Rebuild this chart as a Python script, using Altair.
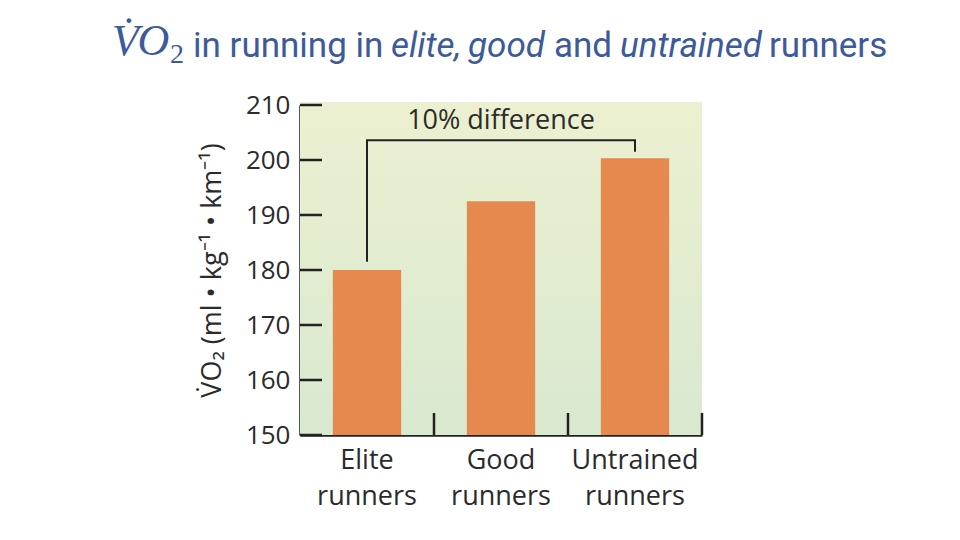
import altair as alt
import pandas as pd

# ---- data ----
categories = ["Elite runners", "Good runners", "Untrained runners"]
vo2_values = [180.0, 192.5, 200.3]
y_tick_values = [150, 160, 170, 180, 190, 200, 210]
bracket_cats = ["Elite runners", "Elite runners", "Untrained runners", "Untrained runners"]
bracket_vals = [181.5, 203.6, 203.6, 201.5]
note_text = "10% difference"
note_cat = "Good runners"
note_val = 205.7
y_title = "V\u0307O\u2082 (ml \u2022 kg\u207b\u00b9 \u2022 km\u207b\u00b9)"

TITLE_COLOR = "#3d5a9a"
INK = "#2b2b2b"
LABEL_FONT = "Open Sans"

bars_df = pd.DataFrame({"cat": categories, "val": vo2_values})
ticks_df = pd.DataFrame({"val": y_tick_values})
xticks_df = pd.DataFrame({"cat": categories})
bracket_df = pd.DataFrame({"cat": bracket_cats, "val": bracket_vals, "o": list(range(len(bracket_cats)))})
note_df = pd.DataFrame({"cat": [note_cat], "val": [note_val], "t": [note_text]})
one = pd.DataFrame({"k": [0]})

x_scale = alt.Scale(domain=categories, paddingInner=0, paddingOuter=0)
y_scale = alt.Scale(domain=[150, 210], nice=False, zero=False)

x_axis = alt.Axis(
    title=None, labelExpr="split(datum.label, ' ')", labelAngle=0,
    labelFontSize=27, labelFont=LABEL_FONT, labelColor=INK, labelLineHeight=36,
    labelPadding=12, ticks=False, domainColor="#222", domainWidth=2.5, grid=False,
)
y_axis = alt.Axis(
    values=y_tick_values, title=y_title, titleFontSize=27, titleFont=LABEL_FONT,
    titleFontWeight="normal", titleColor=INK, titlePadding=19,
    labelFontSize=26, labelFont=LABEL_FONT, labelColor=INK, labelPadding=10,
    ticks=False, domainColor="#222", domainWidth=2.5, grid=False,
)

x_enc = alt.X("cat:N", scale=x_scale, axis=x_axis, sort=categories)
y_enc = alt.Y("val:Q", scale=y_scale, axis=y_axis)

background = alt.Chart(one).mark_rect(
    color=alt.Gradient(
        gradient="linear",
        stops=[alt.GradientStop(color="#ecf0d0", offset=0),
               alt.GradientStop(color="#d8e9d0", offset=1)],
        x1=0, x2=0, y1=0, y2=1,
    )
).encode(x=alt.value(0), x2=alt.value("width"), y=alt.value(-3), y2=alt.value("height"))

bars = alt.Chart(bars_df).mark_bar(
    color="#e6894f", width=alt.RelativeBandSize(0.51)
).encode(x=x_enc, y=y_enc, y2=alt.datum(150))

y_ticks = alt.Chart(ticks_df).mark_rule(color="#222", strokeWidth=2.5).encode(
    y=y_enc, x=alt.value(0), x2=alt.value(22)
)

x_ticks = alt.Chart(xticks_df).mark_rule(color="#222", strokeWidth=2.5).encode(
    x=alt.X("cat:N", scale=x_scale, axis=x_axis, sort=categories, bandPosition=1),
    y=alt.datum(150), y2=alt.datum(154),
)

bracket = alt.Chart(bracket_df).mark_line(color="#222", strokeWidth=2).encode(
    x=x_enc, y=y_enc, order=alt.Order("o:Q")
)

note = alt.Chart(note_df).mark_text(
    fontSize=27, font=LABEL_FONT, color=INK, baseline="alphabetic"
).encode(x=x_enc, y=y_enc, text="t:N")

# ---- title pieces (mixed italic) ----
def piece(text, x, y, size=35, italic=False, font="Roboto"):
    return alt.Chart(one).mark_text(
        text=text, align="left", baseline="alphabetic", fontSize=size, font=font,
        fontStyle="italic" if italic else "normal", color=TITLE_COLOR,
    ).encode(x=alt.value(x), y=alt.value(y))

title_layers = [
    piece("V\u0307O", -188, -50, size=44, italic=True, font="Liberation Serif"),
    piece("2", -130, -42, size=28, font="Liberation Serif"),
    piece("in running in", -107, -48),
    piece("elite,", 91, -48, italic=True),
    piece("good", 168, -48, italic=True),
    piece("and", 254, -48),
    piece("untrained", 320, -48, italic=True),
    piece("runners", 469, -48),
]

chart = alt.layer(
    background, bars, y_ticks, x_ticks, bracket, note, *title_layers
).properties(
    width=402, height=330,
    autosize=alt.AutoSizeParams(type="none"),
    padding={"left": 300, "top": 105, "right": 258, "bottom": 105},
    background="white",
).configure_view(stroke=None)

chart.save("out.html", embed_options={"renderer": "svg", "actions": False})
